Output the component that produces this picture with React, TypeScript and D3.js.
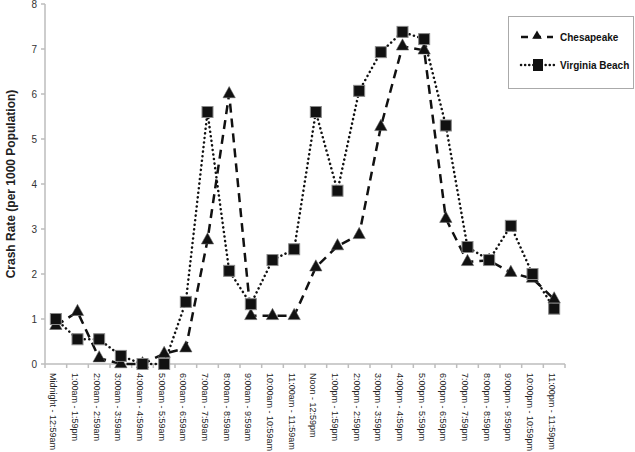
import React from "react";
import * as d3 from "d3";

const categories = [
  "Midnight - 12:59am", "1:00am - 1:59pm", "2:00am - 2:59am", "3:00am - 3:59am",
  "4:00am - 4:59am", "5:00am - 5:59am", "6:00am - 6:59am", "7:00am - 7:59am",
  "8:00am - 8:59am", "9:00am - 9:59am", "10:00am - 10:59am", "11:00am - 11:59am",
  "Noon - 12:59pm", "1:00pm - 1:59pm", "2:00pm - 2:59pm", "3:00pm - 3:59pm",
  "4:00pm - 4:59pm", "5:00pm - 5:59pm", "6:00pm - 6:59pm", "7:00pm - 7:59pm",
  "8:00pm - 8:59pm", "9:00pm - 9:59pm", "10:00pm - 10:59pm", "11:00pm - 11:59pm",
];

const chesapeake = [
  0.85, 1.16, 0.13, 0.0, 0.0, 0.23, 0.35, 2.75, 6.0, 1.07, 1.07, 1.07,
  2.15, 2.62, 2.87, 5.27, 7.06, 6.97, 3.23, 2.27, 2.3, 2.03, 1.9, 1.44,
];

const virginiaBeach = [
  1.0, 0.55, 0.55, 0.18, 0.0, 0.0, 1.38, 5.6, 2.07, 1.33, 2.31, 2.55,
  5.6, 3.85, 6.07, 6.93, 7.38, 7.22, 5.3, 2.6, 2.31, 3.07, 2.0, 1.23,
];

const yTicks = [0, 1, 2, 3, 4, 5, 6, 7, 8];

const W = 635, H = 452;
const left = 45, right = 565, top = 4, bottom = 364;

export default function App() {
  const x = d3.scaleBand<string>().domain(categories).range([left, right]);
  const y = d3.scaleLinear().domain([0, 8]).range([bottom, top]);
  const cx = (i: number) => (x(categories[i]) as number) + x.bandwidth() / 2;
  const line = d3.line<number>().x((_, i) => cx(i)).y((d) => y(d));
  const tri = d3.symbol().type(d3.symbolTriangle).size(60)();

  const axisColor = "#bdbdbd";
  const font = "Arial, 'Liberation Sans', sans-serif";

  return (
    <svg width={W} height={H} style={{ position: "absolute", left: 0, top: 0, background: "#fff" }} fontFamily={font}>
      {/* y axis */}
      <line x1={left} x2={left} y1={top} y2={bottom} stroke={axisColor} strokeWidth={1.5} />
      {yTicks.map((t) => (
        <g key={t}>
          <line x1={left - 4} x2={left} y1={y(t)} y2={y(t)} stroke={axisColor} strokeWidth={1.5} />
          <text x={37} y={y(t)} dy="0.35em" textAnchor="end" fontSize={10} fill="#333">{t}</text>
        </g>
      ))}
      {/* x axis */}
      <line x1={left} x2={right} y1={bottom} y2={bottom} stroke={axisColor} strokeWidth={1.5} />
      {categories.map((c, i) => (
        <line key={"t" + i} x1={x(c)} x2={x(c)} y1={bottom} y2={bottom + 4} stroke={axisColor} strokeWidth={1.5} />
      ))}
      <line x1={right} x2={right} y1={bottom} y2={bottom + 4} stroke={axisColor} strokeWidth={1.5} />
      {categories.map((c, i) => (
        <text key={"l" + i} transform={`translate(${cx(i) - 5.5},${bottom + 9}) rotate(90)`} fontSize={9} fill="#222">{c}</text>
      ))}
      <text transform={`translate(15,${(top + bottom) / 2}) rotate(-90)`} textAnchor="middle" fontSize={12} fontWeight="bold" fill="#222">
        Crash Rate (per 1000 Population)
      </text>

      {/* lines */}
      <path d={line(chesapeake) || ""} fill="none" stroke="#111" strokeWidth={2.5} strokeDasharray="9,6" />
      <path d={line(virginiaBeach) || ""} fill="none" stroke="#111" strokeWidth={2.5} strokeDasharray="0.1,4.5" strokeLinecap="round" />

      {/* markers */}
      {chesapeake.map((v, i) => (
        <path key={"c" + i} d={tri || ""} transform={`translate(${cx(i)},${y(v)}) scale(1.05,1.1)`} fill="#111" stroke="#666" strokeWidth={0.5} />
      ))}
      {virginiaBeach.map((v, i) => (
        <rect key={"v" + i} x={cx(i) - 5.5} y={y(v) - 5.5} width={11} height={11} fill="#111" stroke="#888" strokeWidth={1} />
      ))}

      {/* legend */}
      <rect x={508.5} y={16.5} width={125} height={72} fill="#fff" stroke="#aaa" strokeWidth={1} />
      <line x1={521} x2={553} y1={37} y2={37} stroke="#111" strokeWidth={2.5} strokeDasharray="7,6" />
      <path d={d3.symbol().type(d3.symbolTriangle).size(40)() || ""} transform="translate(537,36)" fill="#111" />
      <text x={560} y={37} dy="0.35em" fontSize={10} fontWeight="bold" fill="#111">Chesapeake</text>
      <line x1={521} x2={555} y1={65} y2={65} stroke="#111" strokeWidth={2.5} strokeDasharray="0.1,4" strokeLinecap="round" />
      <rect x={533} y={59} width={10} height={12} fill="#111" />
      <text x={560} y={65} dy="0.35em" fontSize={10} fontWeight="bold" fill="#111">Virginia Beach</text>
    </svg>
  );
}
